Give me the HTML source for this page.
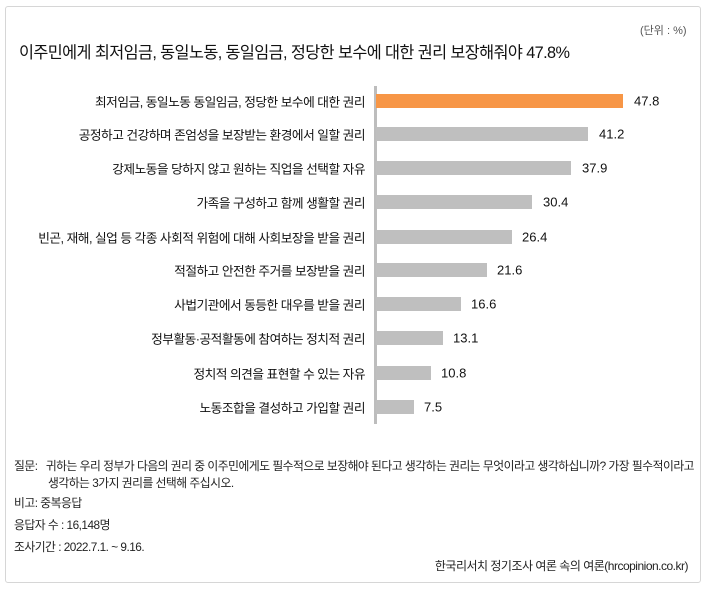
<!DOCTYPE html>
<html><head><meta charset="utf-8"><style>
body{margin:0;width:706px;height:590px;background:#fff;font-family:"Liberation Sans","Noto Sans CJK KR",sans-serif;color:#111;position:relative;overflow:hidden}
.box{position:absolute;left:5px;top:6px;width:694px;height:575px;border:1px solid #d6d6d6;border-radius:3px}
.a{position:absolute;white-space:nowrap}
.lab{position:absolute;right:341px;font-size:12.7px;letter-spacing:-0.5px;transform:translateY(-50%);color:#111}
.bar{position:absolute;left:376px;height:14px;background:#bfbfbf;transform:translateY(-50%)}
.val{position:absolute;font-size:13px;transform:translateY(-50%);color:#111}
.f{position:absolute;font-size:11.8px;color:#222;letter-spacing:-0.5px;white-space:nowrap}
</style></head><body>
<div class="box"></div>
<div class="a" style="left:640px;top:22px;font-size:11px;color:#555">(단위 : %)</div>
<div class="a" style="left:19px;top:39px;font-size:16.3px;letter-spacing:-0.6px;color:#111">이주민에게 최저임금, 동일노동, 동일임금, 정당한 보수에 대한 권리 보장해줘야 47.8%</div>
<div style="position:absolute;left:374px;top:86px;width:3px;height:338px;background:#bdbdbd"></div>

<div class="lab" style="top:101px">최저임금, 동일노동 동일임금, 정당한 보수에 대한 권리</div>
<div class="bar" style="top:101px;width:247px;background:#f79646"></div>
<div class="val" style="top:101px;left:634px">47.8</div>

<div class="lab" style="top:134px">공정하고 건강하며 존엄성을 보장받는 환경에서 일할 권리</div>
<div class="bar" style="top:134px;width:212px"></div>
<div class="val" style="top:134px;left:599px">41.2</div>

<div class="lab" style="top:168px">강제노동을 당하지 않고 원하는 직업을 선택할 자유</div>
<div class="bar" style="top:168px;width:195px"></div>
<div class="val" style="top:168px;left:582px">37.9</div>

<div class="lab" style="top:202px">가족을 구성하고 함께 생활할 권리</div>
<div class="bar" style="top:202px;width:156px"></div>
<div class="val" style="top:202px;left:543px">30.4</div>

<div class="lab" style="top:237px">빈곤, 재해, 실업 등 각종 사회적 위험에 대해 사회보장을 받을 권리</div>
<div class="bar" style="top:237px;width:136px"></div>
<div class="val" style="top:237px;left:522px">26.4</div>

<div class="lab" style="top:270px">적절하고 안전한 주거를 보장받을 권리</div>
<div class="bar" style="top:270px;width:111px"></div>
<div class="val" style="top:270px;left:497px">21.6</div>

<div class="lab" style="top:304px">사법기관에서 동등한 대우를 받을 권리</div>
<div class="bar" style="top:304px;width:85px"></div>
<div class="val" style="top:304px;left:471px">16.6</div>

<div class="lab" style="top:338px">정부활동·공적활동에 참여하는 정치적 권리</div>
<div class="bar" style="top:338px;width:67px"></div>
<div class="val" style="top:338px;left:453px">13.1</div>

<div class="lab" style="top:373px">정치적 의견을 표현할 수 있는 자유</div>
<div class="bar" style="top:373px;width:55px"></div>
<div class="val" style="top:373px;left:441px">10.8</div>

<div class="lab" style="top:407px">노동조합을 결성하고 가입할 권리</div>
<div class="bar" style="top:407px;width:38px"></div>
<div class="val" style="top:407px;left:424px">7.5</div>

<div class="f" style="left:14px;top:457px">질문:&nbsp;&nbsp;&nbsp;귀하는 우리 정부가 다음의 권리 중 이주민에게도 필수적으로 보장해야 된다고 생각하는 권리는 무엇이라고 생각하십니까? 가장 필수적이라고</div>
<div class="f" style="left:48px;top:474px">생각하는 3가지 권리를 선택해 주십시오.</div>
<div class="f" style="left:14px;top:494px">비고: 중복응답</div>
<div class="f" style="left:14px;top:516px">응답자 수 : 16,148명</div>
<div class="f" style="left:14px;top:538px">조사기간 : 2022.7.1. ~ 9.16.</div>
<div class="f" style="right:18px;top:557px;font-size:12px">한국리서치 정기조사 여론 속의 여론(hrcopinion.co.kr)</div>
</body></html>
